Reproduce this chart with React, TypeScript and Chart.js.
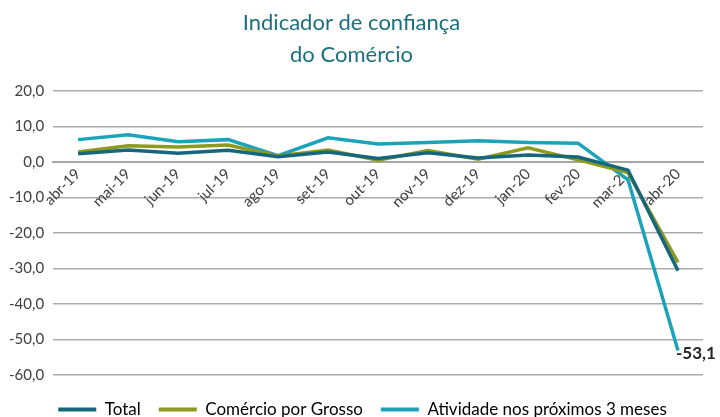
import React, { useEffect, useRef } from "react";
import { Chart, registerables } from "chart.js";

Chart.register(...registerables);

const categories = ["abr-19", "mai-19", "jun-19", "jul-19", "ago-19", "set-19", "out-19", "nov-19", "dez-19", "jan-20", "fev-20", "mar-20", "abr-20"];
const totalValues = [2.3, 3.4, 2.5, 3.3, 1.5, 2.8, 1.0, 2.6, 1.1, 2.0, 1.4, -2.3, -30.6];
const grossoValues = [2.8, 4.6, 4.2, 4.8, 1.7, 3.4, 0.5, 3.2, 0.8, 4.0, 0.6, -3.0, -28.3];
const atividadeValues = [6.3, 7.7, 5.7, 6.3, 1.8, 6.8, 5.1, 5.5, 6.0, 5.5, 5.3, -5.0, -53.1];
const seriesNames = ["Total", "Comércio por Grosso", "Atividade nos próximos 3 meses"];
const seriesColors = ["#17677c", "#8e9a1f", "#1ba3b9"];
const titleLines = ["Indicador de confiança", "do Comércio"];
const yTicks = [20, 10, 0, -10, -20, -30, -40, -50, -60];

const fmt = (v: number) => v.toFixed(1).replace(".", ",");

const endLabelPlugin = {
  id: "endLabel",
  afterDatasetsDraw(chart: any) {
    const meta = chart.getDatasetMeta(2);
    const idx = atividadeValues.length - 1;
    const pt = meta.data[idx];
    if (!pt) return;
    const ctx = chart.ctx;
    ctx.save();
    ctx.font = "bold 17px Lato, 'Liberation Sans', sans-serif";
    ctx.fillStyle = "#262626";
    ctx.textAlign = "left";
    ctx.textBaseline = "middle";
    ctx.fillText(fmt(atividadeValues[idx]), pt.x - 2, pt.y + 3);
    ctx.restore();
  },
};

const legendShiftPlugin = {
  id: "legendShift",
  afterLayout(chart: any) {
    if (chart.legend) {
      chart.legend.left += 11;
      chart.legend.right += 11;
    }
  },
};

export default function App() {
  const canvasRef = useRef<HTMLCanvasElement | null>(null);

  useEffect(() => {
    document.body.style.margin = "0";
    const canvas = canvasRef.current;
    if (!canvas) return;
    const data = [totalValues, grossoValues, atividadeValues];
    const chart = new Chart(canvas, {
      type: "line",
      data: {
        labels: categories,
        datasets: data.map((vals, i) => ({
          label: seriesNames[i],
          data: vals,
          borderColor: seriesColors[i],
          backgroundColor: seriesColors[i],
          borderWidth: 3.5,
          pointRadius: 0,
          tension: 0,
          fill: false,
        })),
      },
      options: {
        animation: false,
        responsive: false,
        maintainAspectRatio: false,
        layout: { padding: { left: 0, right: 17, top: 4, bottom: -11 } },
        plugins: {
          title: {
            display: true,
            text: titleLines,
            color: "#1b6f80",
            font: { family: "Lato, sans-serif", size: 22, weight: "normal", lineHeight: 1.4545 },
            padding: { top: 3, bottom: 20 },
          },
          legend: {
            position: "bottom",
            labels: {
              boxWidth: 38,
              boxHeight: 4,
              color: "#404040",
              font: { family: "Lato, sans-serif", size: 17 },
              padding: 18,
              generateLabels: (c: any) =>
                c.data.datasets.map((ds: any, i: number) => ({
                  text: ds.label,
                  fillStyle: seriesColors[i],
                  strokeStyle: seriesColors[i],
                  lineWidth: 0,
                  hidden: false,
                  datasetIndex: i,
                })),
            },
          },
          tooltip: { enabled: false },
        },
        scales: {
          x: {
            position: { y: 0 } as any,
            offset: true,
            grid: { display: false, drawTicks: false },
            border: { display: true, color: "#a6a6a6", width: 2 },
            ticks: {
              color: "#404040",
              font: { family: "Lato, sans-serif", size: 15 },
              maxRotation: 45,
              minRotation: 45,
              autoSkip: false,
              padding: 3,
            },
          },
          spacer: {
            type: "category",
            position: "bottom",
            grid: { display: false, drawTicks: false },
            border: { display: false },
            ticks: { display: false },
            afterFit: (s: any) => {
              s.height = 8;
            },
          },
          y: {
            min: -60,
            max: 20,
            border: { display: false },
            grid: { color: "#ababab", lineWidth: 1.6, drawTicks: false },
            afterBuildTicks: (scale: any) => {
              scale.ticks = yTicks.map((v) => ({ value: v }));
            },
            ticks: {
              color: "#404040",
              font: { family: "Lato, sans-serif", size: 15 },
              padding: 9,
              callback: (v: any) => fmt(Number(v)),
            },
          },
        },
      },
      plugins: [endLabelPlugin, legendShiftPlugin],
    });
    return () => chart.destroy();
  }, []);

  return (
    <div style={{ width: 720, height: 417 }}>
      <canvas ref={canvasRef} width={720} height={417} style={{ width: 720, height: 417, display: "block" }} />
    </div>
  );
}
